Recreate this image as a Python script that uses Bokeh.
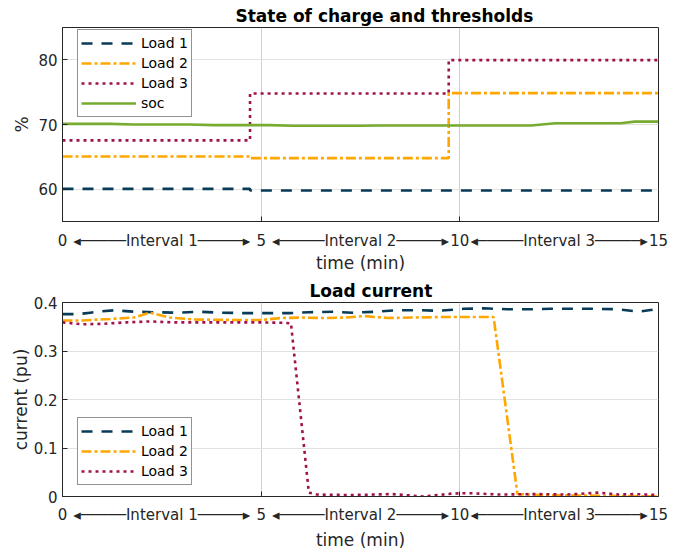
from bokeh.plotting import figure
from bokeh.layouts import column
from bokeh.models import Range1d, FixedTicker, Legend, LegendItem
from bokeh.embed import file_html
from bokeh.resources import INLINE

# ---------------- data ----------------
# thresholds (step functions, % state of charge)
thr_t = [0, 4.72, 4.72, 9.72, 9.72, 15]
load1_thr = [60.05, 60.05, 59.8, 59.8, 59.8, 59.8]
load2_thr = [65.05, 65.05, 64.8, 64.8, 74.85, 74.85]
load3_thr = [67.55, 67.55, 74.8, 74.8, 79.95, 79.95]

soc_t = [0, 1.2, 1.8, 3.2, 3.8, 5.2, 5.8, 7.5, 8.0, 11.8, 12.4, 14.05, 14.4, 15]
soc_v = [70.1, 70.1, 70.0, 70.0, 69.9, 69.9, 69.8, 69.8, 69.85, 69.85, 70.2, 70.2, 70.45, 70.45]

# load currents (pu)
i1_t = [0, 0.4, 0.7, 1.0, 1.3, 1.8, 2.3, 2.9, 3.4, 4.0, 4.6, 5.1, 5.7, 6.2, 6.8, 7.3,
        7.9, 8.4, 9.0, 9.5, 10.1, 10.6, 11.2, 11.8, 12.3, 12.9, 13.4, 14.0, 14.5, 15]
i1_v = [0.376, 0.376, 0.379, 0.382, 0.384, 0.381, 0.380, 0.379, 0.381, 0.379, 0.378,
        0.378, 0.378, 0.380, 0.381, 0.379, 0.381, 0.384, 0.384, 0.383, 0.387, 0.388,
        0.386, 0.386, 0.387, 0.387, 0.387, 0.386, 0.381, 0.387]

i2_t = [0, 0.5, 1.2, 1.8, 2.2, 2.7, 3.3, 4.2, 5.0, 5.5, 6.0, 6.6, 7.1, 7.6, 8.2, 8.8,
        9.5, 10.0, 10.5, 10.85, 11.45, 12.0, 13.0, 14.0, 15]
i2_v = [0.363, 0.363, 0.366, 0.369, 0.379, 0.369, 0.365, 0.364, 0.364, 0.368, 0.369,
        0.368, 0.369, 0.372, 0.368, 0.369, 0.370, 0.370, 0.370, 0.370, 0.005, 0.003,
        0.002, 0.001, 0.0]

i3_t = [0, 0.5, 1.0, 1.6, 2.2, 2.8, 3.5, 4.2, 5.0, 5.6, 5.75, 6.2, 6.4, 7.3, 8.3, 9.1,
        9.8, 10.2, 11.0, 11.9, 12.7, 13.5, 14.0, 14.4, 15]
i3_v = [0.359, 0.355, 0.356, 0.359, 0.361, 0.359, 0.359, 0.359, 0.359, 0.358, 0.357,
        0.008, 0.004, 0.003, 0.005, 0.0, 0.006, 0.007, 0.004, 0.005, 0.004, 0.008,
        0.004, 0.005, 0.003]

x_ticks = [0, 5, 10, 15]
interval_pos = [2.5, 7.5, 12.5]
intervals = ["Interval 1", "Interval 2", "Interval 3"]
series_names = ["Load 1", "Load 2", "Load 3", "soc"]

# ---------------- style ----------------
FONT = "DejaVu Sans"
TXT = "#262626"
C1, C2, C3, C4 = "#073b57", "#ffa600", "#a0124a", "#77ac30"
D1, D2, D3 = "11 9", "10 3 3 3", "3 4"
LW = 2.6
SEG = "\u2500" * 5


def interval_text(name):
    return "\u25c2" + SEG + name + SEG + "\u25b8"


def make_fig(title, y0, y1, yticks, top, bottom, title_off, tick_sd, lab_sd, ylab_sd):
    p = figure(frame_width=596, frame_height=194,
               x_range=Range1d(0, 15), y_range=Range1d(y0, y1),
               output_backend="svg", toolbar_location=None,
               min_border_left=62, min_border_right=14,
               min_border_top=top, min_border_bottom=bottom)
    p.title.text = title
    p.title.align = "left"
    p.title.offset = title_off
    p.title.text_font = FONT
    p.title.text_font_size = "17px"
    p.title.text_font_style = "bold"
    p.title.text_color = "black"
    p.title.standoff = 3
    p.outline_line_color = TXT
    p.outline_line_alpha = 1
    p.background_fill_color = "white"
    p.border_fill_color = "white"

    xa = p.xaxis[0]
    xa.ticker = FixedTicker(ticks=sorted(x_ticks + interval_pos), minor_ticks=[5, 10])
    overrides = {t: str(t) for t in x_ticks}
    for pos, name in zip(interval_pos, intervals):
        overrides[pos] = interval_text(name)
    xa.major_label_overrides = overrides
    ya = p.yaxis[0]
    ya.ticker = FixedTicker(ticks=yticks)
    for ax in (xa, ya):
        ax.major_tick_in = 5
        ax.major_tick_out = 0
        ax.minor_tick_in = 0
        ax.minor_tick_out = 0
        ax.axis_line_color = TXT
        ax.major_tick_line_color = TXT
        ax.minor_tick_line_color = TXT
        ax.major_label_text_font = FONT
        ax.major_label_text_font_size = "15px"
        ax.major_label_text_color = TXT
        ax.axis_label_text_font = FONT
        ax.axis_label_text_font_size = "17px"
        ax.axis_label_text_font_style = "normal"
        ax.axis_label_text_color = TXT
    xa.major_tick_in = 0
    xa.minor_tick_in = 5
    xa.major_label_standoff = tick_sd
    xa.axis_label = "time (min)"
    xa.axis_label_standoff = lab_sd
    ya.major_label_standoff = 5
    ya.axis_label_standoff = ylab_sd

    p.xgrid.ticker = FixedTicker(ticks=[5, 10])
    p.ygrid.ticker = FixedTicker(ticks=yticks)
    p.xgrid.grid_line_color = "#d0d0d0"
    p.ygrid.grid_line_color = "#e2e2e2"
    return p


def style_legend(items, loc):
    lg = Legend(items=items, location=loc)
    lg.label_text_font = FONT
    lg.label_text_font_size = "14px"
    lg.label_text_color = "black"
    lg.glyph_width = 55
    lg.glyph_height = 20
    lg.label_height = 20
    lg.label_standoff = 5
    lg.spacing = 0
    lg.padding = 3
    lg.margin = 0
    lg.border_line_color = TXT
    lg.border_line_width = 1
    lg.background_fill_alpha = 1
    return lg


# ---------------- top chart ----------------
p1 = make_fig("State of charge and thresholds", 55, 85, [60, 70, 80], 23, 56, 173, 10, 0, 3)
p1.yaxis[0].axis_label = "%"
r1 = p1.line(thr_t, load1_thr, line_color=C1, line_width=LW, line_dash=D1)
r2 = p1.line(thr_t, load2_thr, line_color=C2, line_width=LW, line_dash=D2)
r3 = p1.line(thr_t, load3_thr, line_color=C3, line_width=LW, line_dash=D3)
r4 = p1.line(soc_t, soc_v, line_color=C4, line_width=LW)
p1.add_layout(style_legend([LegendItem(label=n, renderers=[r]) for n, r in
                            zip(series_names, [r1, r2, r3, r4])], (15, 104)))

# ---------------- bottom chart ----------------
p2 = make_fig("Load current", 0, 0.4, [0, 0.1, 0.2, 0.3, 0.4], 24, 53, 247, 9, 3, 0)
p2.yaxis[0].axis_label = "current (pu)"
p2.yaxis[0].major_label_overrides = {0: "0"}
q1 = p2.line(i1_t, i1_v, line_color=C1, line_width=LW, line_dash=D1)
q2 = p2.line(i2_t, i2_v, line_color=C2, line_width=LW, line_dash=D2)
q3 = p2.line(i3_t, i3_v, line_color=C3, line_width=LW, line_dash=D3)
p2.add_layout(style_legend([LegendItem(label=n, renderers=[r]) for n, r in
                            zip(series_names[:3], [q1, q2, q3])], (15, 11)))

layout = column(p1, p2, spacing=0, margin=(2, 0, -16, 0))
open("out.html", "w").write(file_html(layout, INLINE))
